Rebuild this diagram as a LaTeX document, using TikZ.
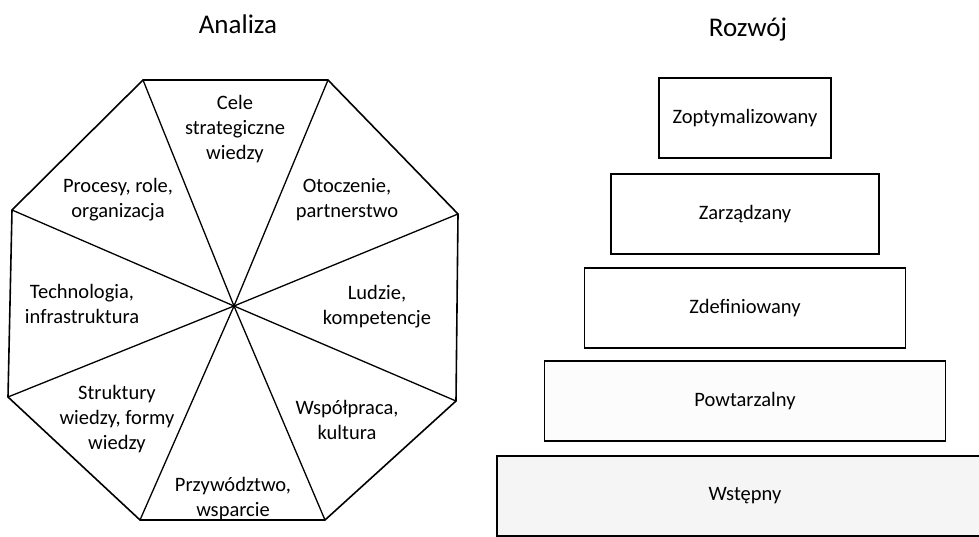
\documentclass[tikz,border=0pt]{standalone}
\usepackage{fontspec}
\setmainfont{Carlito}
\usepackage{xcolor}
\usepackage{tikz}

\begin{document}
\begin{tikzpicture}[x=1pt, y=-1pt,
    every node/.style={font=\fontsize{20.5}{25}\selectfont, align=center},
    title/.style={font=\fontsize{27}{30}\selectfont},
    segline/.style={black, line width=1.3pt},
    level/.style={draw, line width=1.5pt, minimum height=80pt, inner sep=0pt}]
      \useasboundingbox (0,0) rectangle (979,537);

      % Titles
      \node[title] (analiza) at (238,24) {Analiza};
      \node[title] (rozwoj) at (748,30) {Rozwój};

      % Octagon corners and centre
      \coordinate (v1) at (143,80);
      \coordinate (v2) at (328,80);
      \coordinate (v3) at (458,214);
      \coordinate (v4) at (456,401);
      \coordinate (v5) at (325,520);
      \coordinate (v6) at (140,520);
      \coordinate (v7) at (8,397);
      \coordinate (v8) at (12,210);
      \coordinate (mid) at (234,306);
      \draw[segline, line width=1.6pt] (v1) -- (v2) -- (v3) -- (v4) -- (v5) -- (v6) -- (v7) -- (v8) -- cycle;
      \foreach \v in {v1,v2,v3,v4,v5,v6,v7,v8}
        \draw[segline] (mid) -- (\v);

      % Segment labels
      \node (cele) at (235,129) {Cele\\strategiczne\\wiedzy};
      \node (otocz) at (347,200) {Otoczenie,\\partnerstwo};
      \node (ludzie) at (377,307) {Ludzie,\\kompetencje};
      \node (wspol) at (347,420) {Współpraca,\\kultura};
      \node (przyw) at (233,499) {Przywództwo,\\wsparcie};
      \node (strukt) at (117,419) {Struktury\\wiedzy, formy\\wiedzy};
      \node (techno) at (82,304) {Technologia,\\infrastruktura};
      \node (proces) at (118,200) {Procesy, role,\\organizacja};

      % Maturity levels
      \node[level, minimum width=172pt] (zopt) at (745,118) {Zoptymalizowany};
      \node[level, minimum width=268pt] (zarz) at (745,214) {Zarządzany};
      \node[level, minimum width=321pt] (zdef) at (745,308) {Zdefiniowany};
      \node[level, minimum width=401pt, fill=black!1] (powt) at (745,401) {Powtarzalny};
      \node[level, minimum width=496pt, fill=black!4] (wstep) at (745,496) {Wstępny};
    \end{tikzpicture}
\end{document}
